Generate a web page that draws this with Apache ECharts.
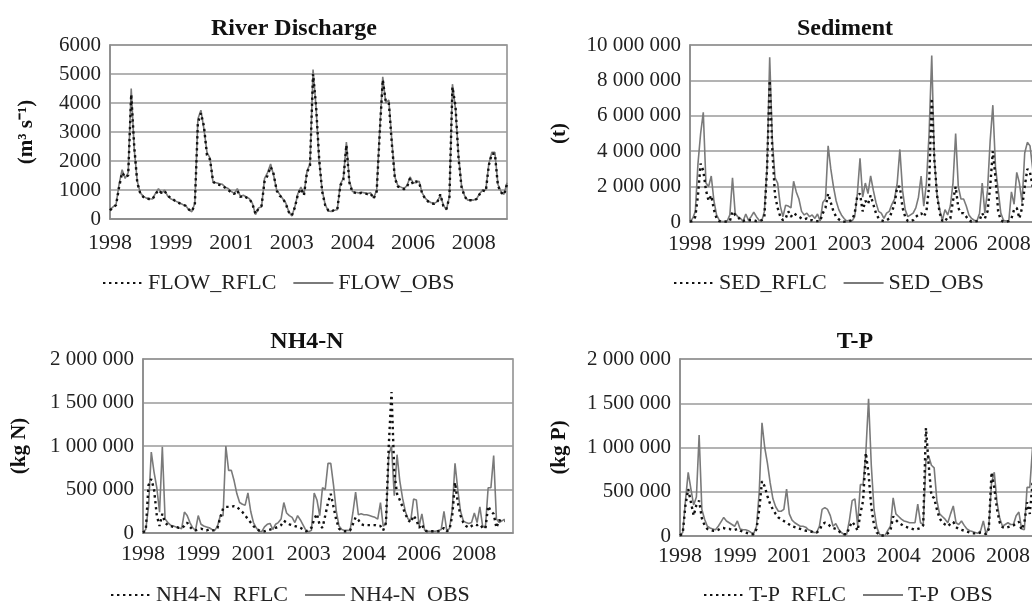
<!DOCTYPE html>
<html>
<head>
<meta charset="utf-8">
<script src="https://cdn.jsdelivr.net/npm/echarts@6/dist/echarts.min.js"></script>
<style>
  html, body { margin: 0; padding: 0; overflow: hidden; background: #fff; }
  #chart { width: 1060px; height: 601px; }
</style>
</head>
<body>
<div id="chart"></div>
<script>
// monthly categories, Jan 1998 onward
const startYear = 1998;
const months = [];
for (let i = 0; i < 135; i++) {
  months.push(startYear + Math.floor(i / 12) + '-' + String((i % 12) + 1).padStart(2, '0'));
}

// River discharge (m3/s)
const flowObs = [320, 420, 500, 1200, 1700, 1400, 1600, 4500, 2400, 1300, 900, 780,
  720, 700, 690, 880, 1050, 880, 1000, 800, 700, 650, 600, 550,
  500, 460, 320, 250, 540, 3450, 3750, 3100, 2300, 2100, 1250, 1250,
  1220, 1200, 1100, 1050, 950, 880, 1050, 780, 820, 760, 700, 540,
  150, 380, 420, 1400, 1600, 1900, 1500, 1000, 850, 700, 550, 250,
  100, 420, 880, 1100, 850, 1650, 1900, 5150, 3850, 2000, 1000, 500,
  280, 260, 300, 320, 1200, 1400, 2650, 1300, 950, 920, 900, 920,
  900, 880, 900, 720, 1000, 3050, 4900, 4000, 4100, 2700, 1450, 1150,
  1100, 1050, 1150, 1450, 1250, 1250, 1300, 900, 720, 620, 560, 540,
  600, 820, 480, 320, 780, 4650, 3800, 2200, 1150, 800, 650, 660,
  650, 700, 880, 1000, 1000, 1900, 2300, 2300, 1200, 950, 850, 1250];
const flowRflc = [300, 400, 480, 1100, 1600, 1450, 1500, 4300, 2500, 1250, 880, 760,
  700, 690, 680, 850, 1000, 900, 960, 820, 720, 660, 590, 540,
  500, 450, 330, 260, 500, 3300, 3650, 3200, 2200, 2050, 1300, 1200,
  1180, 1150, 1080, 1000, 920, 860, 980, 760, 800, 740, 700, 520,
  180, 360, 450, 1300, 1500, 1800, 1550, 980, 800, 720, 520, 240,
  120, 400, 850, 1050, 820, 1600, 1850, 5000, 3900, 2100, 950, 480,
  300, 250, 320, 330, 1150, 1350, 2550, 1250, 930, 900, 880, 900,
  880, 860, 880, 700, 950, 2950, 4800, 4050, 4000, 2600, 1400, 1120,
  1080, 1030, 1100, 1400, 1200, 1300, 1250, 880, 700, 600, 540, 520,
  580, 850, 450, 340, 750, 4550, 3900, 2100, 1100, 780, 640, 650,
  640, 690, 860, 980, 950, 1850, 2250, 2250, 1150, 920, 830, 1200];

// Sediment (t)
const sedObs = [50000, 200000, 600000, 3300000, 5000000, 6200000, 2200000, 2000000, 2600000, 1200000, 400000, 100000,
  20000, 20000, 50000, 400000, 2500000, 500000, 300000, 200000, 50000, 450000, 100000, 300000,
  550000, 300000, 100000, 50000, 600000, 3100000, 9300000, 4600000, 2500000, 2200000, 900000, 300000,
  950000, 900000, 800000, 2300000, 1700000, 1300000, 600000, 400000, 500000, 300000, 400000, 200000,
  450000, 50000, 1100000, 1300000, 4300000, 3000000, 2000000, 1200000, 700000, 400000, 200000, 50000,
  100000, 50000, 300000, 1600000, 3600000, 1400000, 2200000, 1600000, 2600000, 1800000, 1100000, 600000,
  500000, 200000, 500000, 600000, 1000000, 1300000, 2200000, 4100000, 1800000, 700000, 300000, 400000,
  500000, 800000, 1400000, 2600000, 900000, 2200000, 5000000, 9400000, 3500000, 1500000, 700000, 100000,
  700000, 400000, 900000, 2200000, 5000000, 2000000, 1300000, 1300000, 900000, 400000, 200000, 100000,
  50000, 500000, 2200000, 500000, 1800000, 4600000, 6600000, 3100000, 1800000, 500000, 100000, 50000,
  50000, 1700000, 1000000, 2800000, 2200000, 1100000, 3900000, 4500000, 4300000, 3000000, 1500000, 1000000];
const sedRflc = [20000, 50000, 300000, 1500000, 3300000, 2900000, 1800000, 1200000, 1500000, 700000, 200000, 50000,
  20000, 20000, 30000, 50000, 600000, 400000, 300000, 100000, 50000, 100000, 100000, 100000,
  100000, 50000, 50000, 100000, 300000, 3000000, 8000000, 4000000, 1500000, 800000, 300000, 100000,
  200000, 600000, 300000, 500000, 400000, 300000, 200000, 150000, 200000, 100000, 100000, 50000,
  50000, 50000, 500000, 800000, 1600000, 1100000, 600000, 300000, 150000, 50000, 20000, 20000,
  50000, 100000, 500000, 1500000, 1600000, 600000, 1200000, 1000000, 1500000, 1000000, 500000, 200000,
  100000, 50000, 100000, 200000, 600000, 1000000, 2000000, 2000000, 800000, 300000, 50000, 50000,
  100000, 300000, 400000, 500000, 300000, 600000, 2000000, 7000000, 3500000, 1500000, 500000, 50000,
  200000, 100000, 200000, 1200000, 2000000, 800000, 500000, 500000, 300000, 100000, 20000, 20000,
  50000, 100000, 500000, 200000, 600000, 2000000, 4000000, 2500000, 600000, 100000, 20000, 20000,
  50000, 200000, 700000, 800000, 200000, 800000, 2000000, 3000000, 2800000, 2000000, 800000, 500000];

// NH4-N (kg N)
const nh4Obs = [10000, 40000, 300000, 930000, 700000, 520000, 240000, 990000, 160000, 120000, 90000, 80000,
  70000, 60000, 50000, 240000, 200000, 120000, 60000, 30000, 200000, 100000, 80000, 70000,
  60000, 40000, 30000, 80000, 200000, 200000, 1000000, 720000, 720000, 600000, 450000, 350000,
  330000, 320000, 460000, 250000, 120000, 60000, 20000, 15000, 70000, 100000, 110000, 40000,
  100000, 120000, 160000, 350000, 230000, 200000, 180000, 120000, 200000, 150000, 90000, 30000,
  15000, 30000, 460000, 380000, 200000, 520000, 500000, 800000, 800000, 550000, 250000, 80000,
  40000, 30000, 30000, 30000, 230000, 470000, 210000, 220000, 210000, 210000, 200000, 190000,
  180000, 160000, 350000, 80000, 100000, 900000, 1000000, 430000, 900000, 600000, 400000, 250000,
  160000, 150000, 390000, 380000, 80000, 220000, 30000, 20000, 20000, 20000, 20000, 30000,
  40000, 250000, 30000, 50000, 270000, 800000, 500000, 250000, 140000, 120000, 110000, 120000,
  230000, 120000, 300000, 80000, 60000, 520000, 520000, 890000, 160000, 120000, 140000, 160000];
const nh4Rflc = [5000, 30000, 550000, 620000, 500000, 200000, 80000, 220000, 120000, 90000, 80000, 70000,
  70000, 60000, 60000, 80000, 120000, 70000, 40000, 30000, 40000, 50000, 40000, 30000,
  40000, 30000, 30000, 60000, 180000, 280000, 300000, 300000, 300000, 310000, 300000, 270000,
  240000, 200000, 160000, 120000, 80000, 50000, 30000, 20000, 20000, 30000, 40000, 50000,
  60000, 70000, 90000, 140000, 120000, 100000, 90000, 80000, 70000, 60000, 40000, 20000,
  30000, 60000, 160000, 220000, 90000, 60000, 200000, 350000, 450000, 300000, 150000, 50000,
  30000, 20000, 20000, 30000, 100000, 180000, 150000, 100000, 90000, 90000, 90000, 90000,
  90000, 80000, 80000, 30000, 120000, 1000000, 1620000, 700000, 450000, 380000, 300000, 220000,
  150000, 120000, 200000, 150000, 60000, 100000, 30000, 20000, 20000, 20000, 20000, 20000,
  30000, 60000, 20000, 40000, 200000, 580000, 350000, 200000, 120000, 80000, 60000, 80000,
  100000, 90000, 100000, 60000, 50000, 310000, 250000, 220000, 60000, 150000, 130000, 140000];

// T-P (kg P)
const tpObs = [10000, 40000, 400000, 720000, 530000, 350000, 440000, 1140000, 300000, 190000, 110000, 90000,
  80000, 70000, 110000, 160000, 210000, 170000, 150000, 130000, 110000, 170000, 80000, 70000,
  70000, 60000, 40000, 30000, 110000, 500000, 1280000, 1000000, 820000, 600000, 420000, 330000,
  280000, 280000, 300000, 530000, 250000, 180000, 150000, 130000, 110000, 110000, 100000, 70000,
  60000, 40000, 40000, 110000, 300000, 320000, 300000, 230000, 110000, 140000, 80000, 40000,
  20000, 20000, 180000, 400000, 420000, 120000, 580000, 580000, 940000, 1550000, 800000, 300000,
  100000, 20000, 5000, 5000, 60000, 110000, 430000, 250000, 220000, 190000, 170000, 160000,
  150000, 150000, 150000, 360000, 150000, 130000, 850000, 900000, 800000, 770000, 400000, 250000,
  220000, 190000, 150000, 250000, 340000, 150000, 130000, 170000, 120000, 80000, 60000, 50000,
  40000, 30000, 60000, 170000, 20000, 110000, 600000, 720000, 380000, 200000, 110000, 130000,
  150000, 130000, 130000, 230000, 270000, 80000, 70000, 550000, 550000, 1000000, 500000, 300000];
const tpRflc = [5000, 30000, 350000, 530000, 380000, 230000, 350000, 400000, 200000, 120000, 80000, 70000,
  60000, 60000, 70000, 90000, 90000, 80000, 80000, 70000, 70000, 80000, 60000, 50000,
  40000, 30000, 20000, 20000, 80000, 300000, 620000, 560000, 450000, 360000, 300000, 250000,
  210000, 190000, 170000, 150000, 130000, 110000, 100000, 90000, 80000, 70000, 60000, 60000,
  50000, 40000, 40000, 60000, 130000, 150000, 140000, 110000, 90000, 80000, 60000, 30000,
  20000, 20000, 100000, 160000, 120000, 60000, 250000, 400000, 940000, 700000, 330000, 120000,
  40000, 10000, 5000, 5000, 30000, 60000, 220000, 180000, 150000, 130000, 110000, 100000,
  90000, 80000, 70000, 80000, 90000, 120000, 1220000, 800000, 450000, 430000, 300000, 200000,
  150000, 130000, 110000, 140000, 160000, 100000, 80000, 70000, 60000, 50000, 40000, 30000,
  30000, 30000, 40000, 40000, 20000, 80000, 720000, 550000, 300000, 150000, 100000, 90000,
  100000, 110000, 120000, 140000, 160000, 70000, 150000, 380000, 250000, 600000, 350000, 200000];

const serif = 'Liberation Serif';
const gridLine = '#9a9a9a';

function spaced(v) {
  return v >= 10000 ? String(v).replace(/\B(?=(\d{3})+(?!\d))/g, ' ') : String(v);
}

const grids = [
  { left: 110, top: 45, width: 397, height: 174 },
  { left: 690, top: 45, width: 348, height: 177 },
  { left: 143, top: 359, width: 370, height: 174 },
  { left: 680, top: 359, width: 358, height: 177 }
];

const xCats = [months.slice(0, 132), months.slice(0, 132), months.slice(0, 135), months.slice(0, 132)];
const xMargins = [13, 11, 10, 9];

const yDefs = [
  { max: 6000, interval: 1000, name: '(m³ s⁻¹)', gap: 73 },
  { max: 10000000, interval: 2000000, name: '(t)', gap: 120 },
  { max: 2000000, interval: 500000, name: '(kg N)', gap: 113 },
  { max: 2000000, interval: 500000, name: '(kg P)', gap: 110 }
];

const titles = [
  { text: 'River Discharge', left: 294, top: 17 },
  { text: 'Sediment', left: 845, top: 17 },
  { text: 'NH4-N', left: 307, top: 330 },
  { text: 'T-P', left: 855, top: 330 }
];

const pairs = [
  ['FLOW_RFLC', 'FLOW_OBS', flowRflc, flowObs],
  ['SED_RFLC', 'SED_OBS', sedRflc, sedObs],
  ['NH4-N_RFLC', 'NH4-N_OBS', nh4Rflc, nh4Obs],
  ['T-P_RFLC', 'T-P_OBS', tpRflc, tpObs]
];

const legendPos = [
  { left: 102, top: 272 },
  { left: 673, top: 272 },
  { left: 110, top: 584 },
  { left: 703, top: 584 }
];

const series = [];
pairs.forEach((p, i) => {
  series.push({
    name: p[1], type: 'line', xAxisIndex: i, yAxisIndex: i, data: p[3],
    symbol: 'none', color: '#7a7a7a',
    lineStyle: { color: '#7a7a7a', width: 1.6 }
  });
  series.push({
    name: p[0], type: 'line', xAxisIndex: i, yAxisIndex: i, data: p[2],
    symbol: 'none', color: '#111',
    lineStyle: { color: '#111', width: 2.4, type: [2.4, 3.6] }
  });
});

const chart = echarts.init(document.getElementById('chart'));
chart.setOption({
  animation: false,
  backgroundColor: '#fff',
  title: titles.map(t => ({
    text: t.text, left: t.left, top: t.top, textAlign: 'center', padding: 0,
    textStyle: { fontFamily: serif, fontWeight: 'bold', fontSize: 24, color: '#111' }
  })),
  legend: pairs.map((p, i) => ({
    data: [p[0], p[1]], left: legendPos[i].left, top: legendPos[i].top, padding: 0,
    itemWidth: 40, itemHeight: 14, itemGap: 16, selectedMode: false,
    itemStyle: { opacity: 0 },
    textStyle: { fontFamily: serif, fontSize: 22, color: '#222' }
  })),
  grid: grids.map(g => Object.assign({ show: true, borderColor: '#8a8a8a', borderWidth: 1.5, containLabel: false }, g)),
  xAxis: xCats.map((cats, i) => ({
    type: 'category', gridIndex: i, data: cats, boundaryGap: false,
    axisLine: { lineStyle: { color: '#8a8a8a', width: 1.5 } },
    axisTick: { show: false },
    axisLabel: {
      interval: 19, margin: xMargins[i], fontFamily: serif, fontSize: 22, color: '#222',
      formatter: v => v.slice(0, 4)
    }
  })),
  yAxis: yDefs.map((d, i) => ({
    type: 'value', gridIndex: i, min: 0, max: d.max, interval: d.interval,
    name: d.name, nameLocation: 'middle', nameGap: d.gap, nameRotate: 90,
    nameTextStyle: { fontFamily: serif, fontWeight: 'bold', fontSize: 21, color: '#111' },
    axisLine: { show: true, lineStyle: { color: '#8a8a8a', width: 1.5 } },
    axisTick: { show: false },
    splitLine: { lineStyle: { color: gridLine, width: 1.5 } },
    axisLabel: { margin: 9, fontFamily: serif, fontSize: 21, color: '#222', formatter: spaced }
  })),
  series: series
});
</script>
</body>
</html>
